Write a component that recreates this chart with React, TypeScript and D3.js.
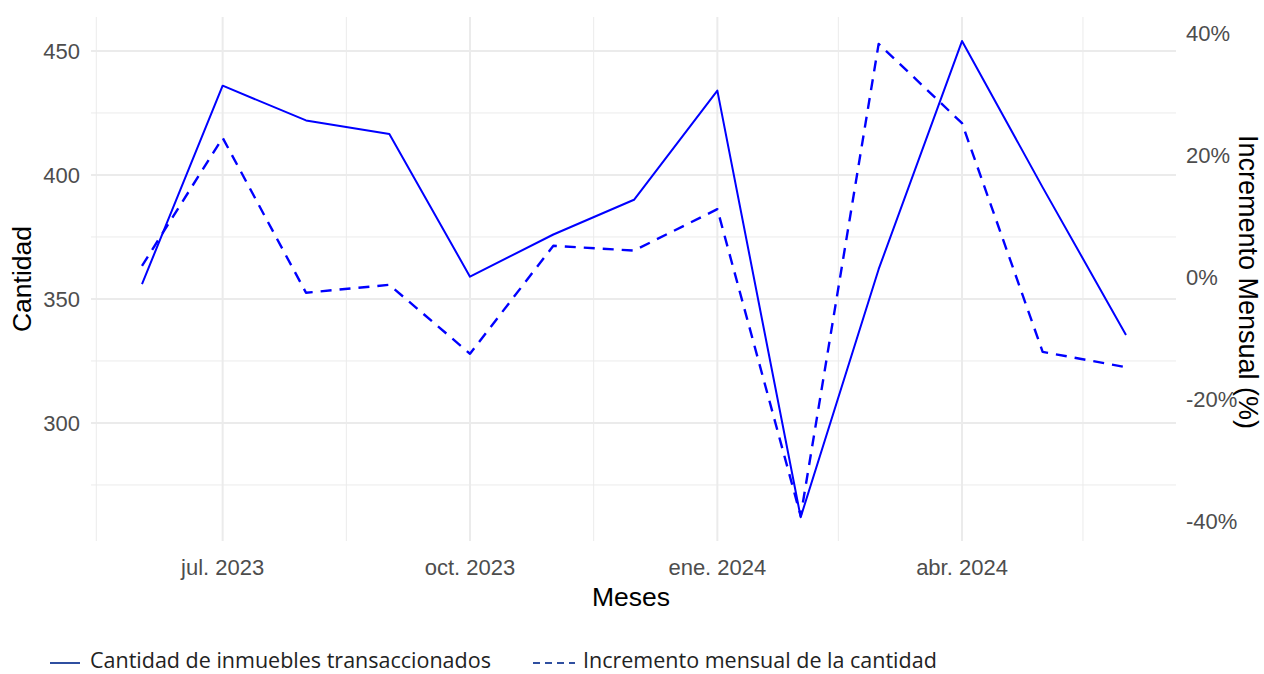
import React from "react";
import * as d3 from "d3";

const months: string[] = [
  "2023-06-01", "2023-07-01", "2023-08-01", "2023-09-01", "2023-10-01", "2023-11-01",
  "2023-12-01", "2024-01-01", "2024-02-01", "2024-03-01", "2024-04-01", "2024-05-01", "2024-06-01",
];
const cantidad: number[] = [356, 436, 422, 416.5, 359, 376, 390, 434, 262, 362, 454, 395, 335.5];
const incremento: number[] = [0.018, 0.228, -0.026, -0.013, -0.126, 0.051, 0.043, 0.111, -0.392, 0.382, 0.252, -0.123, -0.148];
const xTicks: string[] = ["2023-07-01", "2023-10-01", "2024-01-01", "2024-04-01"];
const xTickLabels: string[] = ["jul. 2023", "oct. 2023", "ene. 2024", "abr. 2024"];
const xMinor: string[] = ["2023-05-15", "2023-08-16", "2023-11-16", "2024-02-15", "2024-05-16"];
const yTicks: number[] = [300, 350, 400, 450];
const yMinor: number[] = [275, 325, 375, 425];
const y2Ticks: number[] = [-0.4, -0.2, 0, 0.2, 0.4];
const legendLabels: string[] = ["Cantidad de inmuebles transaccionados", "Incremento mensual de la cantidad"];

const W = 1264;
const H = 674;
const FONT = "'Liberation Sans', Arial, sans-serif";
const LFONT = "'Open Sans', sans-serif";

export default function App() {
  const parse = d3.timeParse("%Y-%m-%d");
  const dates = months.map((m) => parse(m) as Date);
  const x = d3.scaleTime().domain([dates[0], dates[dates.length - 1]]).range([142, 1126]);
  const panelL = 91, panelR = 1176, panelT = 17, panelB = 541;
  const y = d3.scaleLinear().domain([252.4, 463.7]).range([panelB, panelT]);
  const y2 = d3.scaleLinear().domain([-0.433, 0.426]).range([panelB, panelT]);

  const lineSolid = d3.line<number>().x((_, i) => x(dates[i])).y((d) => y(d));
  const lineDash = d3.line<number>().x((_, i) => x(dates[i])).y((d) => y2(d));
  const grid = "#ebebeb";
  const tickCol = "#4d4d4d";
  const pct = (v: number) => d3.format(".0%")(v).replace("\u2212", "-");

  return (
    <svg width={W} height={H} style={{ position: "absolute", left: 0, top: 0, background: "#fff" }}>
      <g>
        {xMinor.map((d) => {
          const px = x(parse(d) as Date);
          return <line key={d} x1={px} x2={px} y1={panelT} y2={panelB} stroke={grid} strokeWidth={1} />;
        })}
        {xTicks.map((d) => {
          const px = x(parse(d) as Date);
          return <line key={d} x1={px} x2={px} y1={panelT} y2={panelB} stroke={grid} strokeWidth={2} />;
        })}
        {yMinor.map((v) => (
          <line key={v} x1={panelL} x2={panelR} y1={y(v)} y2={y(v)} stroke={grid} strokeWidth={1} />
        ))}
        {yTicks.map((v) => (
          <line key={v} x1={panelL} x2={panelR} y1={y(v)} y2={y(v)} stroke={grid} strokeWidth={2} />
        ))}
      </g>
      <path d={lineSolid(cantidad) || ""} fill="none" stroke="#0000ff" strokeWidth={2} strokeLinejoin="round" />
      <path d={lineDash(incremento) || ""} fill="none" stroke="#0000ff" strokeWidth={2.4} strokeDasharray="11,8" strokeLinejoin="round" />

      {yTicks.map((v) => (
        <text key={v} x={80} y={y(v)} dy="0.35em" textAnchor="end" fontFamily={FONT} fontSize={22} fill={tickCol}>
          {v}
        </text>
      ))}
      {y2Ticks.map((v) => (
        <text key={v} x={1186} y={y2(v)} dy="0.35em" textAnchor="start" fontFamily={FONT} fontSize={22} fill={tickCol}>
          {pct(v)}
        </text>
      ))}
      {xTicks.map((d, i) => (
        <text key={d} x={x(parse(d) as Date)} y={567} dy="0.35em" textAnchor="middle" fontFamily={FONT} fontSize={22} fill={tickCol}>
          {xTickLabels[i]}
        </text>
      ))}
      <text x={631} y={597} dy="0.35em" textAnchor="middle" fontFamily={FONT} fontSize={26.5} fill="#000">Meses</text>
      <text transform={`translate(22,${(panelT + panelB) / 2}) rotate(-90)`} dy="0.35em" textAnchor="middle" fontFamily={FONT} fontSize={26.5} fill="#000">Cantidad</text>
      <text transform={`translate(1248,${(panelT + panelB) / 2 + 3}) rotate(90)`} dy="0.35em" textAnchor="middle" fontFamily={FONT} fontSize={27} fill="#000">Incremento Mensual (%)</text>

      <g>
        <line x1={50} x2={80} y1={663} y2={663} stroke="#2f4fa0" strokeWidth={2} />
        <text x={90} y={660} dy="0.35em" fontFamily={LFONT} fontSize={21.5} fill="#222">{legendLabels[0]}</text>
        <line x1={533} x2={575} y1={663} y2={663} stroke="#2f4fa0" strokeWidth={2} strokeDasharray="7,5" />
        <text x={583} y={660} dy="0.35em" fontFamily={LFONT} fontSize={21.5} fill="#222">{legendLabels[1]}</text>
      </g>
    </svg>
  );
}
